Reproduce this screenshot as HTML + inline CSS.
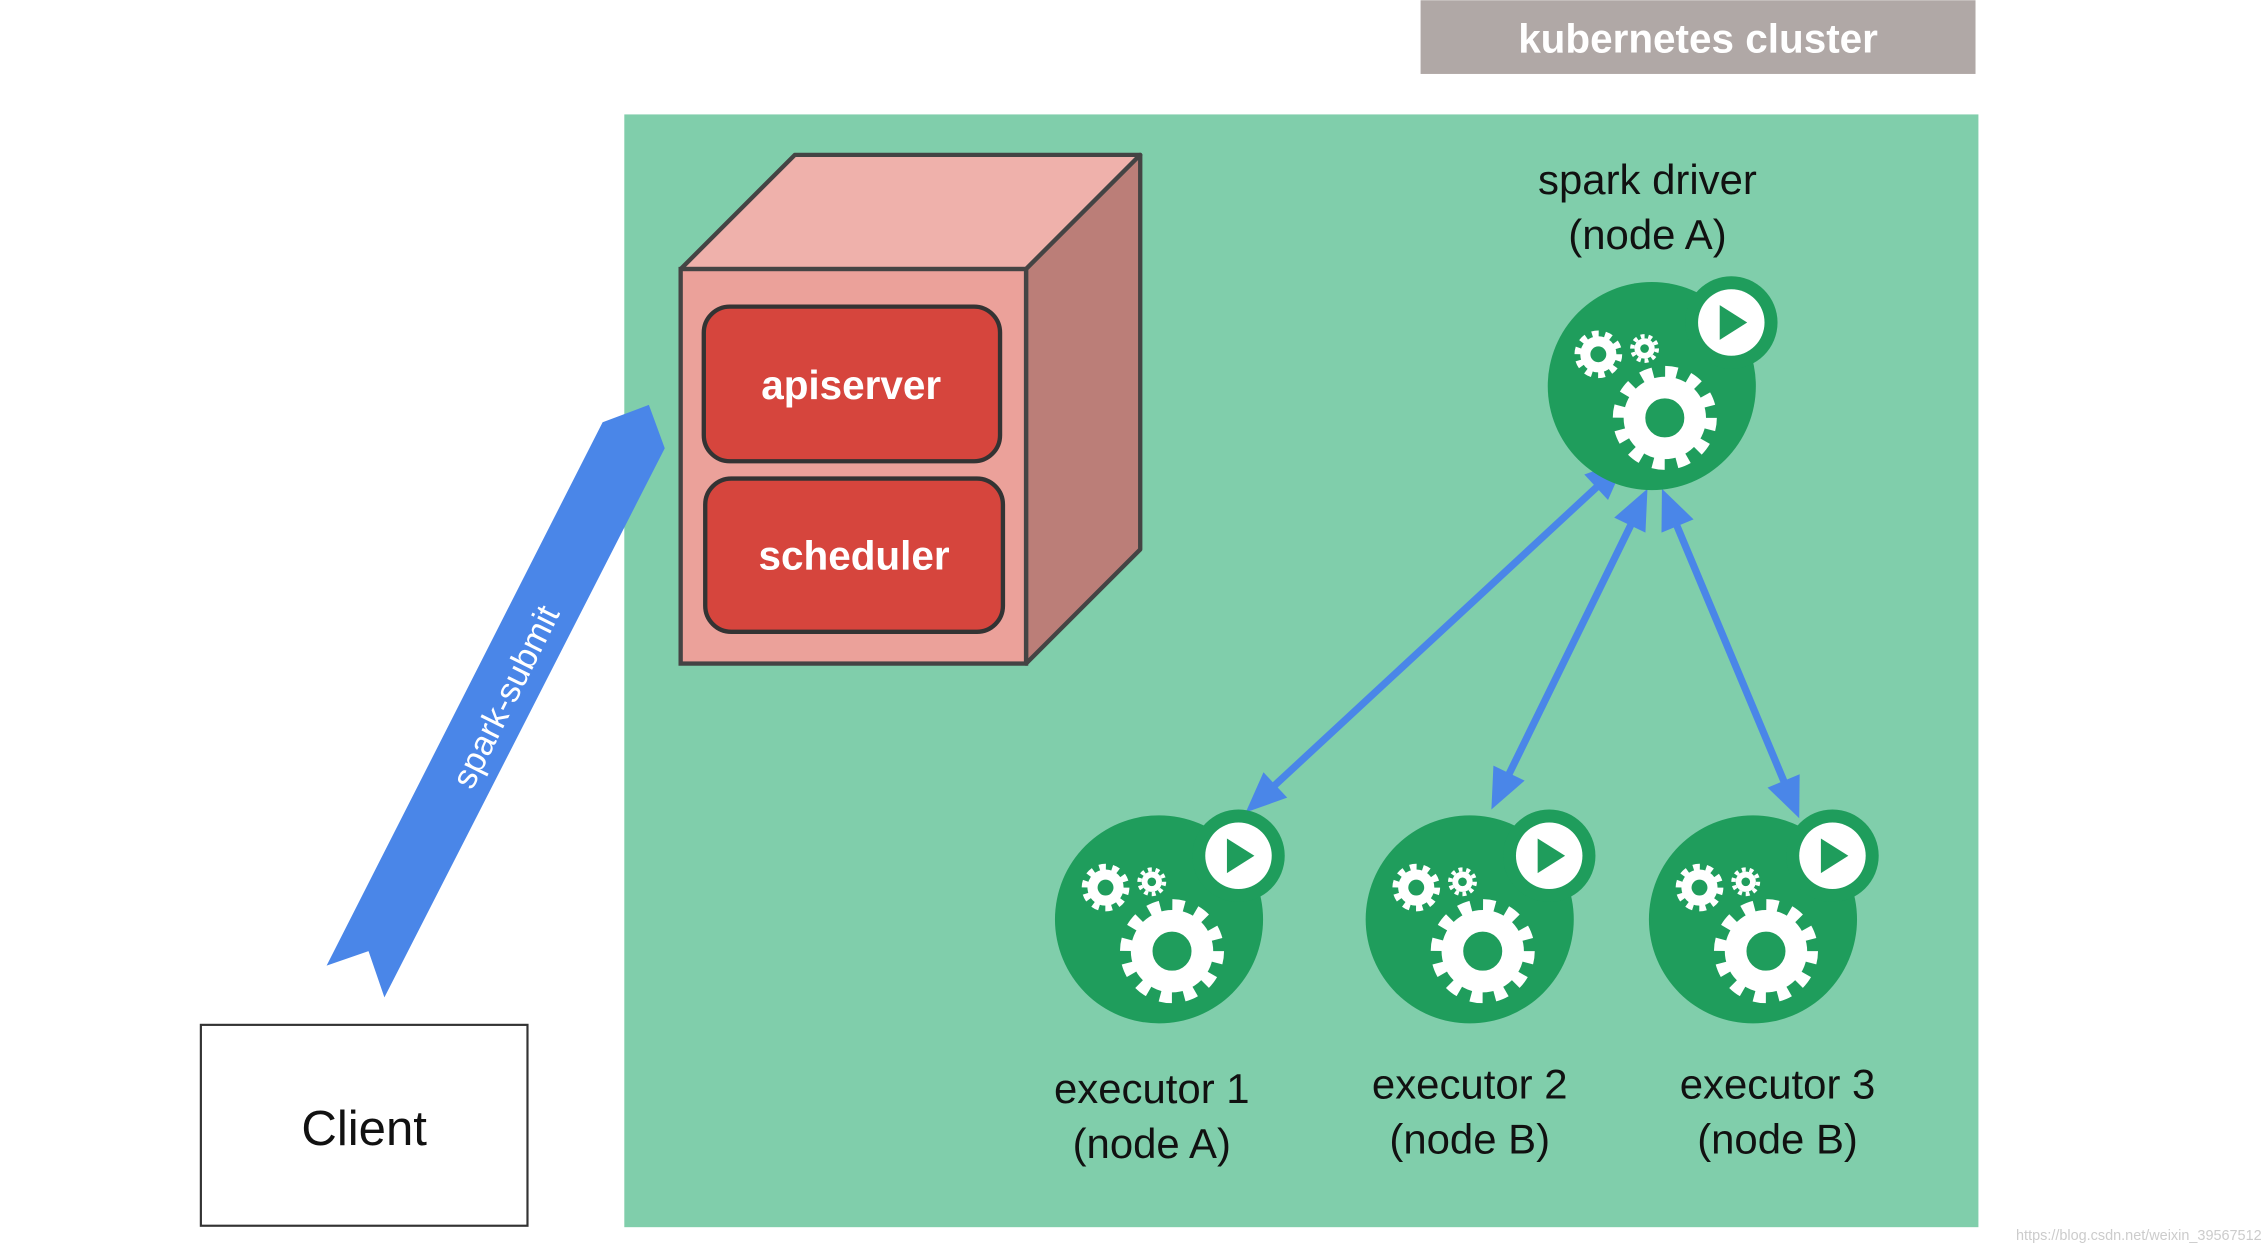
<!DOCTYPE html>
<html><head><meta charset="utf-8"><style>html,body{margin:0;padding:0;background:#fff}svg{display:block}</style></head>
<body>
<svg width="2266" height="1252" viewBox="0 0 1568 866" xmlns="http://www.w3.org/2000/svg" font-family="Liberation Sans, sans-serif">
<defs>
<g id="gear">
 <circle cx="0" cy="0" r="21" fill="none" stroke="#fff" stroke-width="15"/>
 <circle cx="0" cy="0" r="31" fill="none" stroke="#fff" stroke-width="10" stroke-dasharray="8 8.23"/>
</g>
<g id="sgear">
 <circle cx="0" cy="0" r="9" fill="none" stroke="#fff" stroke-width="7"/>
 <circle cx="0" cy="0" r="14" fill="none" stroke="#fff" stroke-width="5" stroke-dasharray="4.5 4.3"/>
</g>
<g id="xgear">
 <circle cx="0" cy="0" r="5" fill="none" stroke="#fff" stroke-width="4"/>
 <circle cx="0" cy="0" r="8.5" fill="none" stroke="#fff" stroke-width="3" stroke-dasharray="2.7 2.6"/>
</g>
<g id="pod">
 <circle cx="0" cy="0" r="72" fill="#1f9d5c"/>
 <circle cx="55" cy="-44" r="32" fill="#1f9d5c"/>
 <circle cx="55" cy="-44" r="23" fill="#fff"/>
 <polygon points="47,-56 47,-32 66,-44" fill="#1f9d5c"/>
 <use href="#gear" x="9" y="22"/>
 <use href="#sgear" x="-37" y="-22"/>
 <use href="#xgear" x="-5" y="-26"/>
</g>
</defs>
<rect x="983" y="0" width="384" height="51" fill="#b0a8a6"/>
<text x="1175" y="36" text-anchor="middle" font-size="28" font-weight="bold" fill="#fff">kubernetes cluster</text>
<rect x="432" y="79" width="937" height="770" fill="#80ceab"/>
<polygon points="471,186 550,107 789,107 710,186" fill="#efb1ab" stroke="#444" stroke-width="3" stroke-linejoin="round"/>
<polygon points="710,186 789,107 789,380 710,459" fill="#bb7e78" stroke="#444" stroke-width="3" stroke-linejoin="round"/>
<rect x="471" y="186" width="239" height="273" fill="#eba19a" stroke="#444" stroke-width="3"/>
<rect x="487" y="212" width="205" height="107" rx="18" fill="#d6453d" stroke="#333" stroke-width="3"/>
<rect x="488" y="331" width="206" height="106" rx="18" fill="#d6453d" stroke="#333" stroke-width="3"/>
<text x="589" y="276" text-anchor="middle" font-size="28" font-weight="bold" fill="#fff">apiserver</text>
<text x="591" y="394" text-anchor="middle" font-size="28" font-weight="bold" fill="#fff">scheduler</text>
<polygon points="417,292 449,280 460,310 266,690 255,658 226,668" fill="#4a86e8"/>
<text x="0" y="0" transform="translate(350,482) rotate(-63.6)" text-anchor="middle" font-size="24" fill="#fff" dy="8">spark-submit</text>
<g stroke="#4a86e8" stroke-width="5" fill="none">
<line x1="1108" y1="334" x2="878" y2="547"/>
<line x1="1130" y1="360" x2="1040" y2="544"/>
<line x1="1158" y1="358" x2="1238" y2="549"/>
</g>
<g fill="#4a86e8">
<polygon points="862,562 890.7,551.8 874.3,534.2"/>
<polygon points="1125,318 1112.7,345.8 1096.3,328.2"/>
<polygon points="1032,560 1055,540 1033.4,529.6"/>
<polygon points="1140,338 1138.6,368.4 1117,358"/>
<polygon points="1245,566 1245.3,535.6 1223.1,544.8"/>
<polygon points="1150,338 1171.9,359.2 1149.7,368.4"/>
</g>
<use href="#pod" x="1143" y="267"/>
<use href="#pod" x="802" y="636"/>
<use href="#pod" x="1017" y="636"/>
<use href="#pod" x="1213" y="636"/>
<g font-size="29" fill="#111" text-anchor="middle">
<text x="1140" y="134">spark driver</text>
<text x="1140" y="172">(node A)</text>
<text x="797" y="763">executor 1</text>
<text x="797" y="801">(node A)</text>
<text x="1017" y="760">executor 2</text>
<text x="1017" y="798">(node B)</text>
<text x="1230" y="760">executor 3</text>
<text x="1230" y="798">(node B)</text>
</g>
<rect x="139" y="709" width="226" height="139" fill="#fff" stroke="#333" stroke-width="1.5"/>
<text x="252" y="792" text-anchor="middle" font-size="34" fill="#111">Client</text>
<text x="1565" y="858" text-anchor="end" font-size="10" fill="#ccc">https://blog.csdn.net/weixin_39567512</text>
</svg>
</body></html>
